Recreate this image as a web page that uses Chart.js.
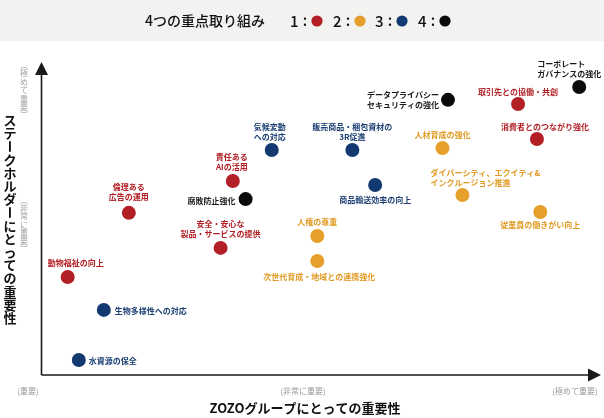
<!DOCTYPE html>
<html>
<head>
<meta charset="utf-8">
<script src="https://cdn.jsdelivr.net/npm/chart.js@4.4.1/dist/chart.umd.min.js"></script>
<style>
  html, body { margin: 0; padding: 0; background: #ffffff; }
  #wrap { width: 604px; height: 418px; }
</style>
</head>
<body>
<div id="wrap"><canvas id="c" width="604" height="418"></canvas></div>
<script>
// ---------- DATA ----------
const themeNames = ['1', '2', '3', '4'];
const themeColors = ['#b21f25', '#e4a02b', '#123a71', '#0b0b0b'];

// Theme 1 (red)
const theme1Labels = [['動物福祉の向上'], ['倫理ある', '広告の運用'], ['責任ある', 'AIの活用'], ['安全・安心な', '製品・サービスの提供'], ['取引先との協働・共創'], ['消費者とのつながり強化']];
const theme1X = [4.8, 15.8, 34.5, 32.3, 85.8, 89.2];
const theme1Y = [31.3, 51.8, 62.0, 40.6, 86.6, 75.4];

// Theme 2 (orange)
const theme2Labels = [['人権の尊重'], ['次世代育成・地域との連携強化'], ['人材育成の強化'], ['ダイバーシティ、エクイティ&', 'インクルージョン推進'], ['従業員の働きがい向上']];
const theme2X = [49.7, 49.7, 72.2, 75.8, 89.8];
const theme2Y = [44.4, 36.4, 72.5, 57.5, 52.1];

// Theme 3 (blue)
const theme3Labels = [['水資源の保全'], ['生物多様性への対応'], ['気候変動', 'への対応'], ['販売商品・梱包資材の', '3R促進'], ['商品輸送効率の向上']];
const theme3X = [6.8, 11.3, 41.5, 56.0, 60.1];
const theme3Y = [4.8, 20.8, 71.9, 71.9, 60.7];

// Theme 4 (black)
const theme4Labels = [['腐敗防止強化'], ['データプライバシー', 'セキュリティの強化'], ['コーポレート', 'ガバナンスの強化']];
const theme4X = [36.8, 73.2, 96.8];
const theme4Y = [56.2, 87.9, 92.0];

const xTickLabels = ['(重要)', '(非常に重要)', '(極めて重要)'];
const yTickLabels = ['(非常に重要)', '(極めて重要)'];
const xTitle = 'ZOZOグループにとっての重要性';
const yTitle = 'ステークホルダーにとっての重要性';
const legendTitle = '4つの重点取り組み';

// ---------- LABEL PLACEMENT (layout only, px offsets from the dot) ----------
const labelPlacement = [
  [ {a:'center',dx:8,dy:-14}, {a:'center',dx:0,dy:-26}, {a:'center',dx:-1,dy:-24}, {a:'center',dx:0,dy:-24}, {a:'center',dx:0,dy:-12}, {a:'center',dx:8,dy:-12} ],
  [ {a:'center',dx:0,dy:-14}, {a:'center',dx:2,dy:16}, {a:'center',dx:0,dy:-13}, {a:'left',dx:-32,dy:-22}, {a:'center',dx:0,dy:13} ],
  [ {a:'left',dx:10,dy:1}, {a:'left',dx:11,dy:1}, {a:'center',dx:-2,dy:-23}, {a:'center',dx:0,dy:-23}, {a:'center',dx:0,dy:15} ],
  [ {a:'right',dx:-10,dy:2}, {a:'left',dx:-81,dy:-5}, {a:'left',dx:-42,dy:-23} ]
];
const labelColors = ['#b21f25', '#e09a22', '#1d3f73', '#1a1a1a'];

const allLabels = [theme1Labels, theme2Labels, theme3Labels, theme4Labels];
const allX = [theme1X, theme2X, theme3X, theme4X];
const allY = [theme1Y, theme2Y, theme3Y, theme4Y];

const FONT = "'Noto Sans CJK JP', 'Noto Sans', sans-serif";

const datasets = themeNames.map((n, i) => ({
  label: n,
  data: allX[i].map((x, j) => ({ x: x, y: allY[i][j] })),
  backgroundColor: themeColors[i],
  borderColor: themeColors[i],
  borderWidth: 0,
  pointRadius: 7,
  pointHoverRadius: 7
}));

function drawVertical(ctx, text, x, yStart, step, font, color) {
  ctx.save();
  ctx.font = font;
  ctx.fillStyle = color;
  ctx.textAlign = 'center';
  ctx.textBaseline = 'middle';
  const chars = Array.from(text);
  chars.forEach((ch, k) => {
    const y = yStart + k * step;
    let c = ch;
    let rotate = false;
    if (ch === '(' || ch === '（') c = '︵';
    else if (ch === ')' || ch === '）') c = '︶';
    else if (ch === 'ー') rotate = true;
    if (rotate) {
      ctx.save();
      ctx.translate(x, y);
      ctx.rotate(Math.PI / 2);
      ctx.fillText(c, 0, 0);
      ctx.restore();
    } else {
      ctx.fillText(c, x, y);
    }
  });
  ctx.restore();
}

const framePlugin = {
  id: 'frame',
  beforeDatasetsDraw(chart) {
    const ctx = chart.ctx;
    const ca = chart.chartArea;
    ctx.save();
    // top band
    ctx.fillStyle = '#f2f2f0';
    ctx.fillRect(0, 0, chart.width, 41);
    // legend
    ctx.fillStyle = '#111';
    ctx.textBaseline = 'middle';
    ctx.textAlign = 'left';
    ctx.font = '500 14px ' + FONT;
    ctx.fillText(legendTitle, 145, 21);
    const numX = [290, 333, 375, 418];
    themeNames.forEach((n, i) => {
      ctx.fillStyle = '#111';
      ctx.font = '500 15px ' + FONT;
      ctx.textAlign = 'left';
      ctx.fillText(n, numX[i], 21);
      ctx.textAlign = 'center';
      ctx.fillText(':', numX[i] + 15, 20);
      ctx.beginPath();
      ctx.arc(numX[i] + 27, 21, 5.6, 0, Math.PI * 2);
      ctx.fillStyle = themeColors[i];
      ctx.fill();
    });

    // axes
    const x0 = ca.left + 0.5, y0 = ca.bottom;
    ctx.strokeStyle = '#1a1a1a';
    ctx.fillStyle = '#1a1a1a';
    ctx.lineWidth = 1.6;
    ctx.beginPath();
    ctx.moveTo(x0, y0);
    ctx.lineTo(x0, ca.top + 8);
    ctx.moveTo(x0, y0);
    ctx.lineTo(ca.right, y0);
    ctx.stroke();
    // arrows
    ctx.beginPath();
    ctx.moveTo(x0, ca.top);
    ctx.lineTo(x0 - 6.5, ca.top + 13);
    ctx.lineTo(x0 + 6.5, ca.top + 13);
    ctx.closePath();
    ctx.fill();
    ctx.beginPath();
    ctx.moveTo(ca.right + 4, y0);
    ctx.lineTo(ca.right - 9, y0 - 6.5);
    ctx.lineTo(ca.right - 9, y0 + 6.5);
    ctx.closePath();
    ctx.fill();

    // x tick labels
    ctx.fillStyle = '#999999';
    ctx.font = '8px ' + FONT;
    ctx.textAlign = 'center';
    ctx.textBaseline = 'middle';
    const xTickPos = [28, 303, 575];
    xTickLabels.forEach((t, i) => ctx.fillText(t, xTickPos[i], 391));
    // x title
    ctx.fillStyle = '#111';
    ctx.font = 'bold 13px ' + FONT;
    ctx.fillText(xTitle, 305, 408);
    ctx.restore();

    // y tick labels (vertical)
    drawVertical(ctx, yTickLabels[1], 24, 65, 8.4, '8px ' + FONT, '#a0a0a0');
    drawVertical(ctx, yTickLabels[0], 24, 200, 8.2, '8px ' + FONT, '#a0a0a0');
    // y title (vertical)
    drawVertical(ctx, yTitle, 10, 120, 13.2, 'bold 13px ' + FONT, '#111');
  },
  afterDatasetsDraw(chart) {
    const ctx = chart.ctx;
    ctx.save();
    ctx.font = 'bold 8px ' + FONT;
    ctx.textBaseline = 'middle';
    chart.data.datasets.forEach((ds, i) => {
      const meta = chart.getDatasetMeta(i);
      meta.data.forEach((pt, j) => {
        const p = labelPlacement[i][j];
        const lines = allLabels[i][j];
        ctx.fillStyle = labelColors[i];
        ctx.textAlign = p.a;
        lines.forEach((line, k) => {
          ctx.fillText(line, pt.x + p.dx, pt.y + p.dy + k * 10);
        });
      });
    });
    ctx.restore();
  }
};

new Chart(document.getElementById('c'), {
  type: 'scatter',
  data: { datasets: datasets },
  options: {
    responsive: false,
    animation: false,
    layout: { padding: { left: 41, top: 62, right: 6, bottom: 43 } },
    plugins: { legend: { display: false }, tooltip: { enabled: false } },
    scales: {
      x: { type: 'linear', min: 0, max: 100, display: false },
      y: { type: 'linear', min: 0, max: 100, display: false }
    }
  },
  plugins: [framePlugin]
});
</script>
</body>
</html>
